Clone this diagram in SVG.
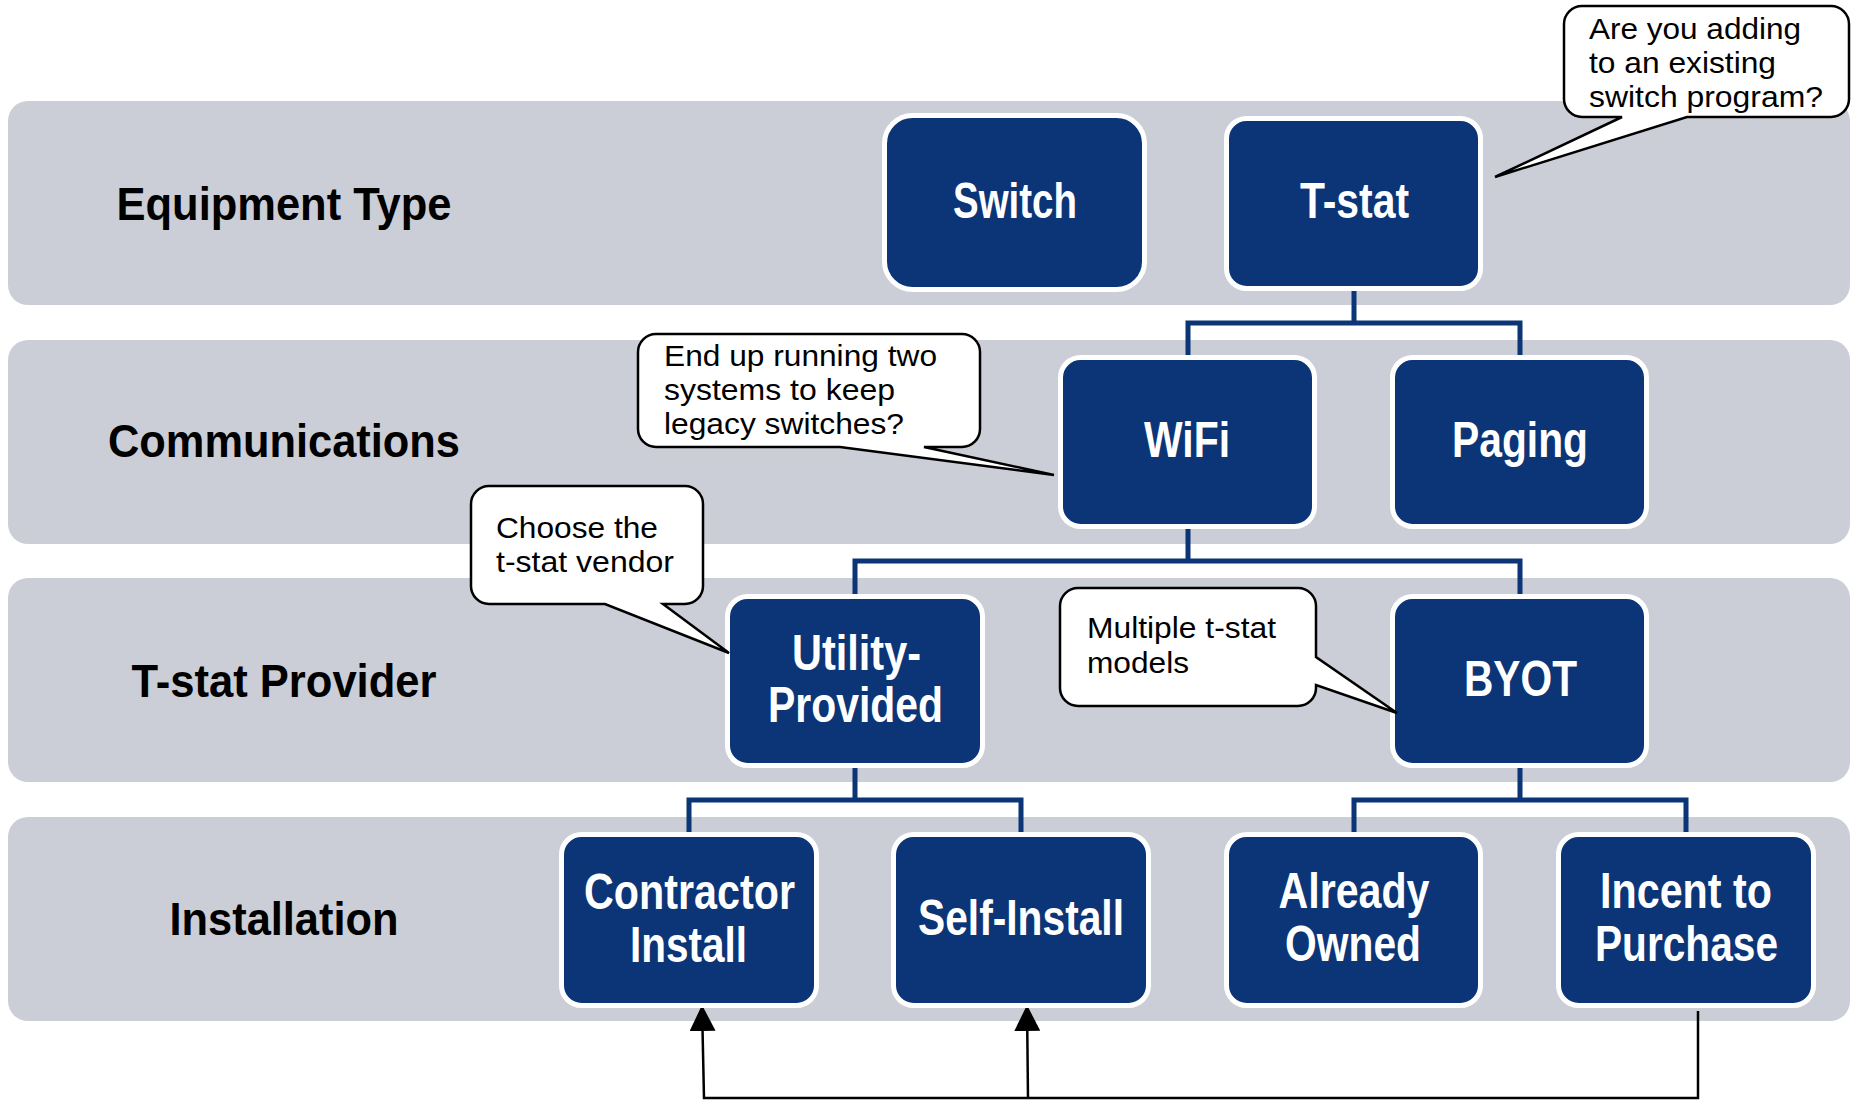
<svg xmlns="http://www.w3.org/2000/svg" width="1853" height="1100" viewBox="0 0 1853 1100">
<style>
.band{fill:#CBCED6}
.lbl{font-family:"Liberation Sans",Arial,sans-serif;font-weight:bold;font-size:46px;fill:#000;text-anchor:middle}
.node rect{fill:#0B3577;stroke:#FFFFFF;stroke-width:5}
.nt{font-family:"Liberation Sans",Arial,sans-serif;font-weight:bold;font-size:50px;fill:#FFFFFF;text-anchor:middle}
.tree{fill:none;stroke:#0B3577;stroke-width:5;stroke-linejoin:miter}
.arr{fill:none;stroke:#000;stroke-width:2.5}
.call path{fill:#FFFFFF;stroke:#000;stroke-width:2.5;stroke-linejoin:miter}
.ct{font-family:"Liberation Sans",Arial,sans-serif;font-size:30px;fill:#000}
</style>
<defs>
<marker id="ah" markerUnits="userSpaceOnUse" markerWidth="26" markerHeight="26" refX="26" refY="13" orient="auto">
<path d="M0,0 L26,13 L0,26 Z" fill="#000"/>
</marker>
</defs>
<rect width="1853" height="1100" fill="#FFFFFF"/>
<g id="bands">
<rect class="band" x="8" y="101" width="1842" height="204" rx="20"/>
<rect class="band" x="8" y="340" width="1842" height="204" rx="20"/>
<rect class="band" x="8" y="578" width="1842" height="204" rx="20"/>
<rect class="band" x="8" y="817" width="1842" height="204" rx="20"/>
<text class="lbl" x="284" y="220" textLength="335" lengthAdjust="spacingAndGlyphs">Equipment Type</text>
<text class="lbl" x="284" y="457" textLength="352" lengthAdjust="spacingAndGlyphs">Communications</text>
<text class="lbl" x="284" y="697" textLength="305" lengthAdjust="spacingAndGlyphs">T-stat Provider</text>
<text class="lbl" x="284" y="935" textLength="229" lengthAdjust="spacingAndGlyphs">Installation</text>
</g>
<g id="connectors">
<path class="tree" d="M1354,290 V323 M1188,356 V323 H1520 V356"/>
<path class="tree" d="M1188,528 V561 M855,595 V561 H1520 V595"/>
<path class="tree" d="M855,767 V800 M689,833 V800 H1021 V833"/>
<path class="tree" d="M1520,767 V800 M1354,833 V800 H1686 V833"/>
<path class="arr" d="M1698,1011 V1098 H704 L702,1005" marker-end="url(#ah)"/>
<path class="arr" d="M1028,1098 L1027,1005" marker-end="url(#ah)"/>
</g>
<g id="switch" class="node"><rect x="884.5" y="115.5" width="260" height="174" rx="28"/><text class="nt" x="1015" y="218" textLength="124" lengthAdjust="spacingAndGlyphs">Switch</text></g>
<g id="tstat" class="node"><rect x="1226.5" y="118.5" width="254" height="170" rx="20"/><text class="nt" x="1354.5" y="218" textLength="109" lengthAdjust="spacingAndGlyphs">T-stat</text></g>
<g id="wifi" class="node"><rect x="1060.5" y="357.5" width="254" height="169" rx="20"/><text class="nt" x="1187" y="457" textLength="86" lengthAdjust="spacingAndGlyphs">WiFi</text></g>
<g id="paging" class="node"><rect x="1392.5" y="357.5" width="254" height="169" rx="20"/><text class="nt" x="1520" y="457" textLength="136" lengthAdjust="spacingAndGlyphs">Paging</text></g>
<g id="utility" class="node"><rect x="727.5" y="596.5" width="255" height="169" rx="20"/><text class="nt" x="856.5" y="670" textLength="129" lengthAdjust="spacingAndGlyphs">Utility-</text><text class="nt" x="855.5" y="722" textLength="175" lengthAdjust="spacingAndGlyphs">Provided</text></g>
<g id="byot" class="node"><rect x="1392.5" y="596.5" width="254" height="169" rx="20"/><text class="nt" x="1520.5" y="696" textLength="113" lengthAdjust="spacingAndGlyphs">BYOT</text></g>
<g id="contractor" class="node"><rect x="561.5" y="834.5" width="255" height="171" rx="20"/><text class="nt" x="689.5" y="909" textLength="211" lengthAdjust="spacingAndGlyphs">Contractor</text><text class="nt" x="688.5" y="962" textLength="117" lengthAdjust="spacingAndGlyphs">Install</text></g>
<g id="selfinstall" class="node"><rect x="893.5" y="834.5" width="255" height="171" rx="20"/><text class="nt" x="1021" y="935" textLength="206" lengthAdjust="spacingAndGlyphs">Self-Install</text></g>
<g id="already" class="node"><rect x="1226.5" y="834.5" width="254" height="171" rx="20"/><text class="nt" x="1354" y="908" textLength="151" lengthAdjust="spacingAndGlyphs">Already</text><text class="nt" x="1353" y="961" textLength="136" lengthAdjust="spacingAndGlyphs">Owned</text></g>
<g id="incent" class="node"><rect x="1558.5" y="834.5" width="255" height="171" rx="20"/><text class="nt" x="1686" y="908" textLength="172" lengthAdjust="spacingAndGlyphs">Incent to</text><text class="nt" x="1686.5" y="961" textLength="183" lengthAdjust="spacingAndGlyphs">Purchase</text></g>
<g id="callout-switch-program" class="call">
<path d="M1582,6 H1831 A18,18 0 0 1 1849,24 V99 A18,18 0 0 1 1831,117 H1687 L1495,177 L1622,117 H1582 A18,18 0 0 1 1564,99 V24 A18,18 0 0 1 1582,6 Z"/>
<text class="ct" x="1589" y="39" textLength="212" lengthAdjust="spacingAndGlyphs">Are you adding</text>
<text class="ct" x="1589" y="73" textLength="187" lengthAdjust="spacingAndGlyphs">to an existing</text>
<text class="ct" x="1589" y="107" textLength="234" lengthAdjust="spacingAndGlyphs">switch program?</text>
</g>
<g id="callout-two-systems" class="call">
<path d="M656,334 H962 A18,18 0 0 1 980,352 V429 A18,18 0 0 1 962,447 H924 L1054,475 L840,447 H656 A18,18 0 0 1 638,429 V352 A18,18 0 0 1 656,334 Z"/>
<text class="ct" x="664" y="366" textLength="273" lengthAdjust="spacingAndGlyphs">End up running two</text>
<text class="ct" x="664" y="400" textLength="231" lengthAdjust="spacingAndGlyphs">systems to keep</text>
<text class="ct" x="664" y="434" textLength="240" lengthAdjust="spacingAndGlyphs">legacy switches?</text>
</g>
<g id="callout-vendor" class="call">
<path d="M489,486 H685 A18,18 0 0 1 703,504 V586 A18,18 0 0 1 685,604 H663 L729,653 L605,604 H489 A18,18 0 0 1 471,586 V504 A18,18 0 0 1 489,486 Z"/>
<text class="ct" x="496" y="538" textLength="162" lengthAdjust="spacingAndGlyphs">Choose the</text>
<text class="ct" x="496" y="572" textLength="178" lengthAdjust="spacingAndGlyphs">t-stat vendor</text>
</g>
<g id="callout-models" class="call">
<path d="M1078,588 H1298 A18,18 0 0 1 1316,606 V657 L1397,713 L1316,685 V688 A18,18 0 0 1 1298,706 H1078 A18,18 0 0 1 1060,688 V606 A18,18 0 0 1 1078,588 Z"/>
<text class="ct" x="1087" y="638" textLength="189" lengthAdjust="spacingAndGlyphs">Multiple t-stat</text>
<text class="ct" x="1087" y="673" textLength="102" lengthAdjust="spacingAndGlyphs">models</text>
</g>
</svg>
